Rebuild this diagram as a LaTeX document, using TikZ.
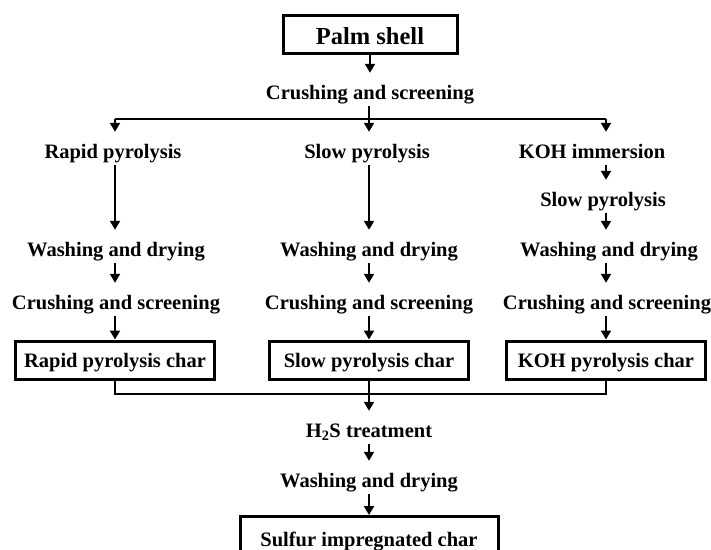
\documentclass[tikz,border=0pt]{standalone}
\usepackage{fontspec}
\setmainfont{Liberation Serif}
\usetikzlibrary{arrows.meta,calc}
\begin{document}
\begin{tikzpicture}[x=1pt,y=-1pt,
  lbl/.style={font=\fontsize{20.5}{24}\selectfont\bfseries, inner sep=0pt, text height=26pt, text depth=7pt, anchor=base},
  box/.style={draw, line width=3pt, font=\fontsize{20.5}{24}\selectfont\bfseries, minimum width=199pt, minimum height=38pt, inner sep=0pt, text height=17pt, text depth=2pt},
  arr/.style={line width=2pt, -{Triangle[width=10pt,length=9pt]}},
  conn/.style={line width=1.8pt}]
\useasboundingbox (0,0) rectangle (711,549);
\clip (0,0) rectangle (711,549);
% column coordinates
\coordinate (cL) at (115,0);
\coordinate (cM) at (369,0);
\coordinate (cR) at (606,0);
\coordinate (ht) at (369,119);
\coordinate (hb) at (369,394);
% top
\node[box, minimum width=174pt, text height=20pt, text depth=0pt, font=\fontsize{24.5}{28}\selectfont\bfseries] (ps) at (370,34) {Palm shell};
\node[lbl] (cs1) at (370,99) {Crushing and screening};
% left column
\node[lbl] (rp) at (113,158) {Rapid pyrolysis};
\node[lbl] (wd1) at (116,256) {Washing and drying};
\node[lbl] (cr1) at (116,309) {Crushing and screening};
\node[box] (rc) at (115,360) {Rapid pyrolysis char};
% middle column
\node[lbl] (sp) at (367,158) {Slow pyrolysis};
\node[lbl] (wd2) at (369,256) {Washing and drying};
\node[lbl] (cr2) at (369,309) {Crushing and screening};
\node[box] (sc) at (369,360) {Slow pyrolysis char};
% right column
\node[lbl] (kh) at (592,158) {KOH immersion};
\node[lbl] (ks) at (603,206) {Slow pyrolysis};
\node[lbl] (wd3) at (609,256) {Washing and drying};
\node[lbl] (cr3) at (607,309) {Crushing and screening};
\node[box] (kc) at (606,360) {KOH pyrolysis char};
% bottom
\node[lbl] (hs) at (369,437) {H\textsubscript{2}S treatment};
\node[lbl] (wd4) at (369,487) {Washing and drying};
\node[box, anchor=north, minimum width=258pt, minimum height=44pt] (sic) at (369,515) {Sulfur impregnated char};
% connectors top
\draw[arr] (ps.south) -- (cs1.north -| ps.south);
\draw[conn] (ht -| cL) -- (ht -| cR);
\draw[arr] (cs1.south -| cM) -- (sp.north -| cM);
\draw[arr] (ht -| cL) -- (rp.north -| cL);
\draw[arr] (ht -| cR) -- (kh.north -| cR);
% left
\draw[arr] (rp.south -| cL) -- (wd1.north -| cL);
\draw[arr] (wd1.south -| cL) -- (cr1.north -| cL);
\draw[arr] (cr1.south -| cL) -- (rc.north -| cL);
% middle
\draw[arr] (sp.south -| cM) -- (wd2.north -| cM);
\draw[arr] (wd2.south -| cM) -- (cr2.north -| cM);
\draw[arr] (cr2.south -| cM) -- (sc.north -| cM);
% right
\draw[arr] (kh.south -| cR) -- (ks.north -| cR);
\draw[arr] (ks.south -| cR) -- (wd3.north -| cR);
\draw[arr] (wd3.south -| cR) -- (cr3.north -| cR);
\draw[arr] (cr3.south -| cR) -- (kc.north -| cR);
% bottom
\draw[conn] (rc.south -| cL) -- (hb -| cL) -- (hb -| cR) -- (kc.south -| cR);
\draw[arr] (sc.south -| cM) -- (hs.north -| cM);
\draw[arr] (hs.south -| cM) -- (wd4.north -| cM);
\draw[arr] (wd4.south -| cM) -- (sic.north);
\end{tikzpicture}
\end{document}
